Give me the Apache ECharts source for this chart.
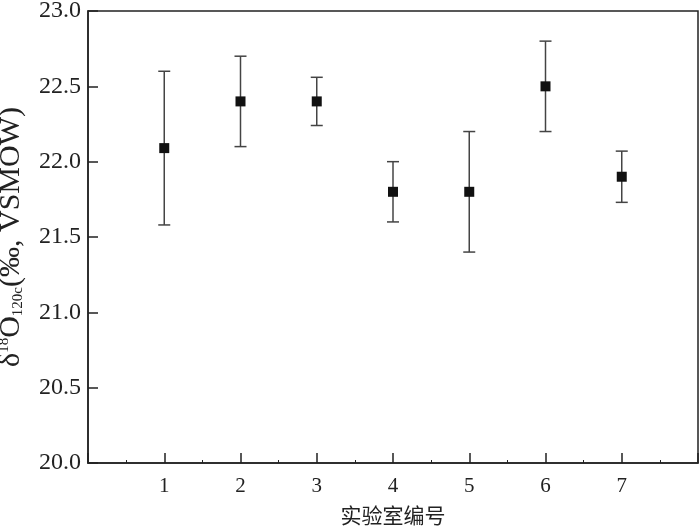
<!DOCTYPE html>
<html><head><meta charset="utf-8">
<script src="https://cdn.jsdelivr.net/npm/echarts@6/dist/echarts.min.js"></script>
<style>html,body{margin:0;padding:0;background:#fff}#c{width:700px;height:527px}</style>
</head><body><div id="c"></div>
<script>
var labs = [1, 2, 3, 4, 5, 6, 7];
var means = [22.09, 22.40, 22.40, 21.80, 21.80, 22.50, 21.90];
var lows = [21.58, 22.10, 22.24, 21.60, 21.40, 22.20, 21.73];
var highs = [22.60, 22.70, 22.56, 22.00, 22.20, 22.80, 22.07];
var yTicks = [20.0, 20.5, 21.0, 21.5, 22.0, 22.5, 23.0];

var errData = labs.map(function (x, i) { return [x, lows[i], highs[i]]; });
var ptData = labs.map(function (x, i) { return [x, means[i]]; });

var chart = echarts.init(document.getElementById('c'), null, {renderer: 'canvas'});
var serif = '"Liberation Serif","Times New Roman",serif';
chart.setOption({
  animation: false,
  backgroundColor: '#fff',
  grid: {left: 88, top: 11, right: 2, bottom: 64, containLabel: false, outerBoundsMode: 'none',
         show: true, borderColor: '#222', borderWidth: 1.5, backgroundColor: 'transparent'},
  xAxis: {
    type: 'value', min: 0, max: 8, interval: 1,
    name: '实验室编号', nameLocation: 'middle', nameGap: 42,
    nameTextStyle: {fontFamily: '"Noto Sans CJK SC"', fontSize: 21, color: '#222'},
    axisLine: {lineStyle: {color: '#222', width: 1.5}},
    axisTick: {inside: true, length: 10, lineStyle: {color: '#222', width: 1.5}},
    minorTick: {show: true, splitNumber: 2, length: 3, lineStyle: {color: '#222', width: 1}},
    splitLine: {show: false},
    axisLabel: {
      margin: 13, fontFamily: serif, fontSize: 21, color: '#222',
      formatter: function (v) { return labs.indexOf(v) >= 0 ? String(v) : ''; }
    }
  },
  yAxis: {
    type: 'value', min: 20, max: 23, interval: 0.5,
    name: '{t|δ}{sup|18}{t|O}{sub|120c}{t|(‰, VSMOW)}',
    nameLocation: 'middle', nameGap: 57, nameRotate: 90,
    nameTextStyle: {
      fontFamily: serif, fontSize: 30, color: '#222',
      rich: {
        t: {fontFamily: serif, fontSize: 30, color: '#222', lineHeight: 34, verticalAlign: 'middle'},
        sup: {fontFamily: serif, fontSize: 15, color: '#222', lineHeight: 34, verticalAlign: 'top', padding: [2, 0, 0, 0]},
        sub: {fontFamily: serif, fontSize: 15, color: '#222', lineHeight: 34, verticalAlign: 'bottom', padding: [0, 0, 3, 0]}
      }
    },
    axisLine: {lineStyle: {color: '#222', width: 1.5}},
    axisTick: {inside: true, length: 10, lineStyle: {color: '#222', width: 1.5}},
    splitLine: {show: false},
    axisLabel: {
      margin: 7, fontFamily: serif, fontSize: 24, color: '#222',
      formatter: function (v) { return v.toFixed(1); }
    }
  },
  series: [
    {
      type: 'custom',
      data: errData,
      renderItem: function (params, api) {
        var x = api.value(0);
        var lo = api.coord([x, api.value(1)]);
        var hi = api.coord([x, api.value(2)]);
        var hw = 6;
        var st = {stroke: '#444', lineWidth: 1.5};
        return {
          type: 'group',
          children: [
            {type: 'line', shape: {x1: lo[0], y1: lo[1], x2: hi[0], y2: hi[1]}, style: st},
            {type: 'line', shape: {x1: lo[0] - hw, y1: lo[1], x2: lo[0] + hw, y2: lo[1]}, style: st},
            {type: 'line', shape: {x1: hi[0] - hw, y1: hi[1], x2: hi[0] + hw, y2: hi[1]}, style: st}
          ]
        };
      },
      z: 2
    },
    {
      type: 'scatter',
      data: ptData,
      symbol: 'rect',
      symbolSize: 10,
      itemStyle: {color: '#111', opacity: 1},
      z: 3
    }
  ]
});
</script>
</body></html>
